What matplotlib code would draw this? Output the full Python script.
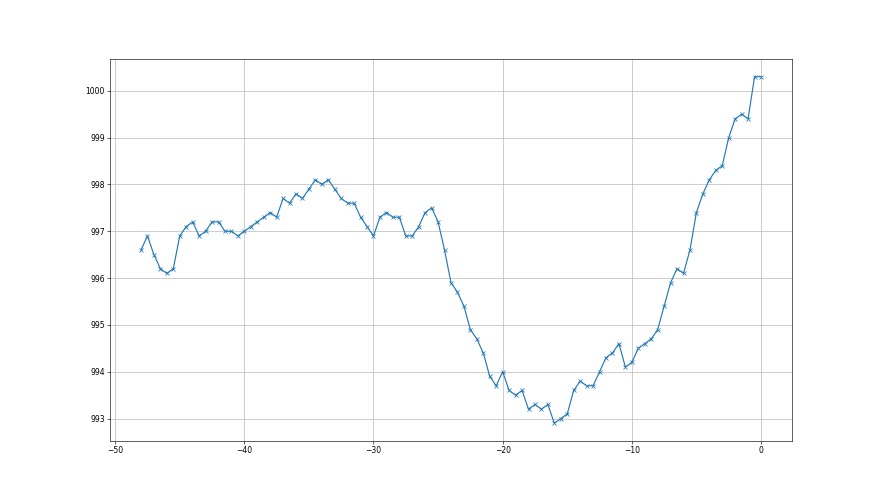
import matplotlib
matplotlib.use("Agg")
import matplotlib.pyplot as plt
import numpy as np

hours = [-48 + 0.5 * i for i in range(97)]
pressure = [
    996.6, 996.9, 996.5, 996.2, 996.1, 996.2, 996.9, 997.1, 997.2, 996.9,
    997.0, 997.2, 997.2, 997.0, 997.0, 996.9, 997.0, 997.1, 997.2, 997.3,
    997.4, 997.3, 997.7, 997.6, 997.8, 997.7, 997.9, 998.1, 998.0, 998.1,
    997.9, 997.7, 997.6, 997.6, 997.3, 997.1, 996.9, 997.3, 997.4, 997.3,
    997.3, 996.9, 996.9, 997.1, 997.4, 997.5, 997.2, 996.6, 995.9, 995.7,
    995.4, 994.9, 994.7, 994.4, 993.9, 993.7, 994.0, 993.6, 993.5, 993.6,
    993.2, 993.3, 993.2, 993.3, 992.9, 993.0, 993.1, 993.6, 993.8, 993.7,
    993.7, 994.0, 994.3, 994.4, 994.6, 994.1, 994.2, 994.5, 994.6, 994.7,
    994.9, 995.4, 995.9, 996.2, 996.1, 996.6, 997.4, 997.8, 998.1, 998.3,
    998.4, 999.0, 999.4, 999.5, 999.4, 1000.3, 1000.3,
]

fig, ax = plt.subplots(figsize=(16, 9), dpi=55)
ax.plot(hours, pressure, marker='x', color='#1f77b4')
ax.grid(True)
fig.savefig("out.png", dpi=55)
